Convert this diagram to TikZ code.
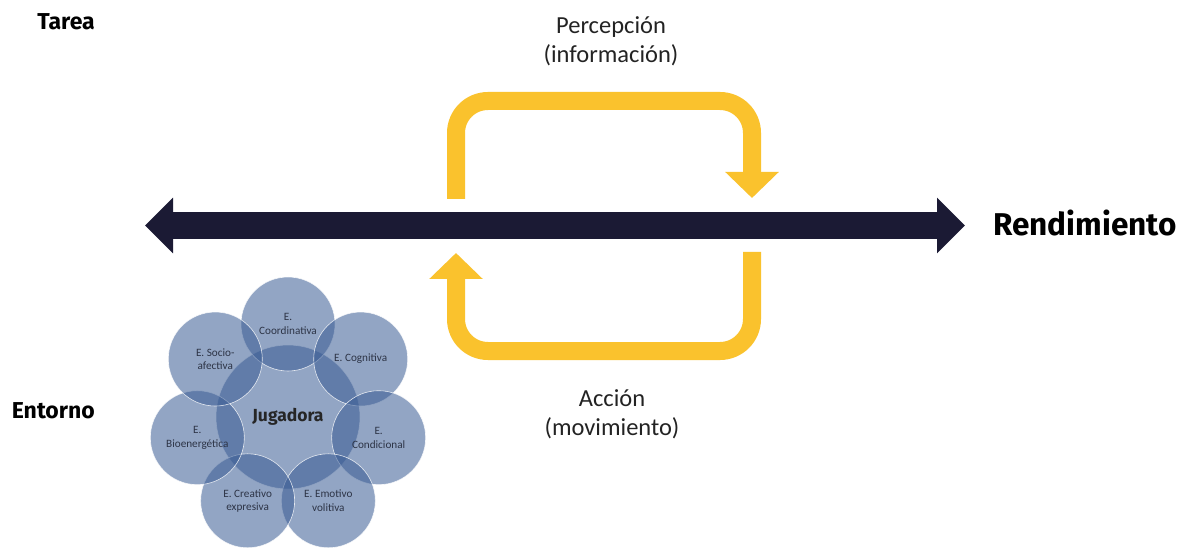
\documentclass[tikz,border=0pt]{standalone}
\usepackage{fontspec}
\setmainfont{Carlito}
\newfontfamily\firafont{Fira Sans}
\usetikzlibrary{arrows.meta, positioning}

\begin{document}
\begin{tikzpicture}[x=1pt,y=1pt,
  etiqueta/.style={font=\firafont\bfseries\fontsize{23}{27}\selectfont, text=black, inner sep=0pt},
  fase/.style={align=center, font=\fontsize{24.5}{29}\selectfont, text=textColor, inner sep=0pt},
  esfera/.style={circle, minimum size=94pt, inner sep=0pt, fill=esfColor, fill opacity=0.55,
    text opacity=1, draw=white, draw opacity=0.8, line width=0.6pt, align=center,
    font=\fontsize{11.2}{13.5}\selectfont, text=esfText},
  ciclo/.style={draw=yellowColor, line width=18pt, rounded corners=32pt,
    -{Triangle[length=26pt,width=52pt]}}
]
\definecolor{navyColor}{RGB}{27,26,52}
\definecolor{yellowColor}{RGB}{250,194,45}
\definecolor{esfColor}{RGB}{58,92,148}
\definecolor{esfText}{RGB}{45,52,70}
\definecolor{textColor}{RGB}{35,35,35}
\path[use as bounding box,fill=white] (0,0) rectangle (1186,547);

% labels
\node[etiqueta, anchor=base east] (tarea) at (95,517) {Tarea};
\node[etiqueta, anchor=base east] (entorno) at (95,129) {Entorno};
\node[etiqueta, anchor=base west, font=\firafont\bfseries\fontsize{31.5}{36}\selectfont] (rendimiento) at (993,311) {Rendimiento};

% main axis
\coordinate (izq) at (145,321.5);
\coordinate (der) at (965,321.5);
\draw[navyColor, line width=27pt, {Triangle[length=28pt,width=54pt]}-{Triangle[length=28pt,width=54pt]}] (izq) -- (der);

% perception / action loop
\coordinate (percIni) at (456,348);
\coordinate (percFin) at (752,349);
\coordinate (accIni) at (752,295);
\coordinate (accFin) at (456,294);
\draw[ciclo] (percIni) -- (percIni |- 0,446) -- (percFin |- 0,446) -- (percFin);
\draw[ciclo] (accIni) -- (accIni |- 0,196) -- (accFin |- 0,196) -- (accFin);

\node[fase] (percepcion) at (611,506) {Percepción\\(información)};
\node[fase] (accion) at (612,133) {Acción\\(movimiento)};

% player and her structures
\node[esfera, minimum size=144pt] (jugadora) at (288,130) {};
\node[esfera] (coordinativa) at ([shift={(90:93pt)}]jugadora.center) {E.\\Coordinativa};
\node[esfera] (cognitiva) at ([shift={(38.57:93pt)}]jugadora.center) {E. Cognitiva};
\node[esfera] (condicional) at ([shift={(-12.86:93pt)}]jugadora.center) {E.\\Condicional};
\node[esfera] (emotivo) at ([shift={(-64.29:93pt)}]jugadora.center) {E. Emotivo\\volitiva};
\node[esfera] (creativo) at ([shift={(-115.71:93pt)}]jugadora.center) {E. Creativo\\expresiva};
\node[esfera] (bioenergetica) at ([shift={(-167.14:93pt)}]jugadora.center) {E.\\Bioenergética};
\node[esfera] (socio) at ([shift={(141.43:93pt)}]jugadora.center) {E. Socio-\\afectiva};
\node[font=\firafont\bfseries\fontsize{17.5}{20}\selectfont, text=black!85, inner sep=0pt] (jugNombre) at (jugadora.center) {Jugadora};
\end{tikzpicture}
\end{document}
